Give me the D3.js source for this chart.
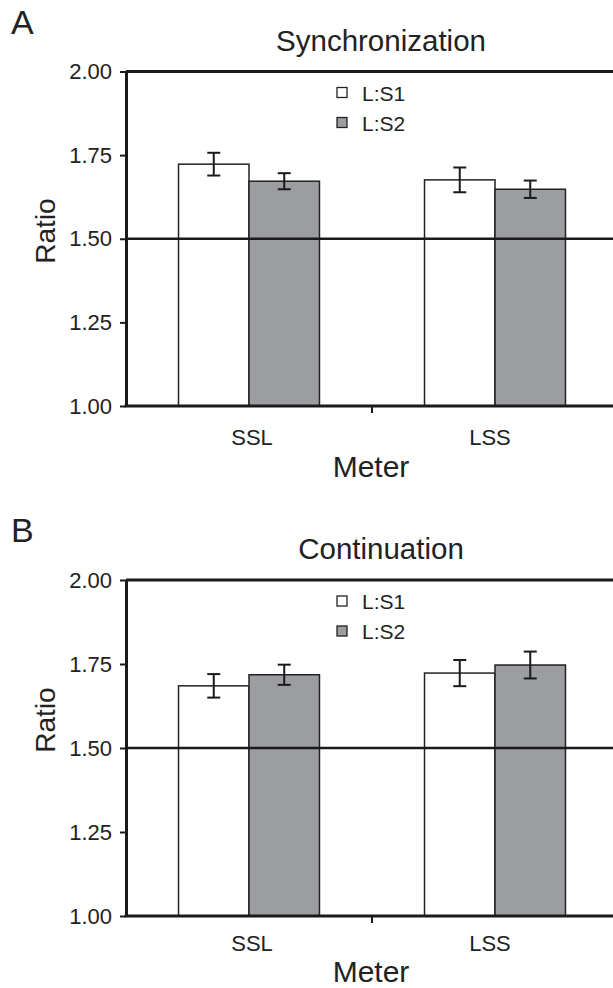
<!DOCTYPE html>
<html>
<head>
<meta charset="utf-8">
<script src="https://cdn.jsdelivr.net/npm/d3@7"></script>
<style>
body { margin: 0; background: #fff; }
svg { display: block; font-family: 'Liberation Sans', Arial, sans-serif; }
</style>
</head>
<body>
<div class="chart-container"></div>
<script>
//Data
const meters = ['SSL', 'LSS'];
const seriesNames = ['L:S1', 'L:S2'];
const yTicks = [1.00, 1.25, 1.50, 1.75, 2.00];

// A: Synchronization
const syncS1 = [1.723, 1.676];
const syncS2 = [1.672, 1.648];
const syncS1Err = [0.034, 0.037];
const syncS2Err = [0.024, 0.026];

// B: Continuation
const contS1 = [1.685, 1.723];
const contS2 = [1.718, 1.747];
const contS1Err = [0.035, 0.039];
const contS2Err = [0.030, 0.040];

const seriesFill = ['#ffffff', '#9c9da1'];

function buildRows(s1, s2, e1, e2){
    return meters.map((m, i) => ({
        meter: m,
        values: [
            {series: seriesNames[0], value: s1[i], err: e1[i]},
            {series: seriesNames[1], value: s2[i], err: e2[i]}
        ]
    }));
}

const svg_width = 613;
const svg_height = 988;

const svg = d3.select('.chart-container').append('svg')
    .attr('width', svg_width).attr('height', svg_height);

function drawPanel(opt){
    const {letter, title, rows, top, bottom} = opt;
    const left = 126, right = 618;

    const xScale = d3.scaleBand().domain(meters).range([left, right]).padding(0);
    const x1 = d3.scaleBand().domain(seriesNames).range([0, xScale.bandwidth()])
        .paddingInner(0).paddingOuter(0.745);
    const yScale = d3.scaleLinear().domain([1, 2]).range([bottom, top]);

    const g = svg.append('g');

    //panel letter and title
    g.append('text').attr('x', 11).attr('y', top - 38)
        .style('font-size', '34px').style('fill', '#222').text(letter);
    g.append('text').attr('x', 381).attr('y', top - 21)
        .attr('text-anchor', 'middle')
        .style('font-size', '29.5px').style('fill', '#222').text(title);

    //bars
    const groups = g.selectAll('.group').data(rows).enter().append('g')
        .attr('class', 'group')
        .attr('transform', d => `translate(${xScale(d.meter)},0)`);
    groups.selectAll('rect').data(d => d.values).enter().append('rect')
        .attr('x', d => x1(d.series))
        .attr('y', d => yScale(d.value))
        .attr('width', x1.bandwidth())
        .attr('height', d => yScale(1) - yScale(d.value))
        .style('fill', (d, i) => seriesFill[i])
        .style('stroke', '#222').style('stroke-width', 1.5);

    //reference line at 1.50
    g.append('line')
        .attr('x1', left).attr('x2', svg_width)
        .attr('y1', yScale(1.5)).attr('y2', yScale(1.5))
        .style('stroke', '#1a1a1a').style('stroke-width', 2.5);

    //error bars
    const eb = groups.selectAll('.err').data(d => d.values).enter().append('g').attr('class', 'err')
        .attr('transform', d => `translate(${x1(d.series) + x1.bandwidth() / 2},0)`)
        .style('stroke', '#1a1a1a').style('stroke-width', 2);
    eb.append('line').attr('y1', d => yScale(d.value + d.err)).attr('y2', d => yScale(d.value - d.err));
    eb.append('line').attr('x1', -6.5).attr('x2', 6.5)
        .attr('y1', d => yScale(d.value + d.err)).attr('y2', d => yScale(d.value + d.err));
    eb.append('line').attr('x1', -6.5).attr('x2', 6.5)
        .attr('y1', d => yScale(d.value - d.err)).attr('y2', d => yScale(d.value - d.err));

    //top frame line
    g.append('line').attr('x1', left).attr('x2', svg_width)
        .attr('y1', top).attr('y2', top)
        .style('stroke', '#1a1a1a').style('stroke-width', 3);

    //y axis
    const yAxis = d3.axisLeft(yScale).tickValues(yTicks)
        .tickFormat(d3.format('.2f')).tickSizeInner(6).tickSizeOuter(0).tickPadding(8);
    const yAxisDraw = g.append('g').attr('transform', `translate(${left},0)`).call(yAxis);
    yAxisDraw.select('.domain').style('stroke', '#1a1a1a').style('stroke-width', 3);
    yAxisDraw.selectAll('.tick line').style('stroke', '#1a1a1a').style('stroke-width', 2);
    yAxisDraw.selectAll('text').style('font-size', '22px').style('fill', '#222')
        .attr('font-family', null);

    //x axis
    g.append('line').attr('x1', left - 1.5).attr('x2', svg_width)
        .attr('y1', bottom).attr('y2', bottom)
        .style('stroke', '#1a1a1a').style('stroke-width', 3);
    g.append('line').attr('x1', xScale(meters[1])).attr('x2', xScale(meters[1]))
        .attr('y1', bottom).attr('y2', bottom + 7)
        .style('stroke', '#1a1a1a').style('stroke-width', 2);
    g.selectAll('.xlab').data(meters).enter().append('text')
        .attr('class', 'xlab')
        .attr('x', (d, i) => xScale(d) + xScale.bandwidth() / 2 + (i === 0 ? 3 : -5))
        .attr('y', bottom + opt.labelDy)
        .attr('text-anchor', 'middle')
        .style('font-size', '22px').style('fill', '#222').text(d => d);

    //axis titles
    g.append('text').attr('x', 371).attr('y', bottom + opt.meterDy)
        .attr('text-anchor', 'middle')
        .style('font-size', '30px').style('fill', '#222').text('Meter');
    g.append('text')
        .attr('transform', `translate(55,${opt.ratioY}) rotate(-90)`)
        .attr('text-anchor', 'middle')
        .style('font-size', '28px').style('fill', '#222').text('Ratio');

    //legend
    const legend = g.selectAll('.legend').data(seriesNames).enter().append('g')
        .attr('class', 'legend')
        .attr('transform', (d, i) => `translate(337,${top + 21 + i * 30})`);
    legend.append('rect').attr('x', 0).attr('y', -5).attr('width', 10).attr('height', 10)
        .style('fill', (d, i) => seriesFill[i])
        .style('stroke', '#222').style('stroke-width', 1.3);
    legend.append('text').attr('x', 25).attr('y', 8)
        .style('font-size', '21px').style('fill', '#222').text(d => d);
}

drawPanel({letter: 'A', title: 'Synchronization', top: 71.5, bottom: 406,
    labelDy: 39, meterDy: 71, ratioY: 231,
    rows: buildRows(syncS1, syncS2, syncS1Err, syncS2Err)});
drawPanel({letter: 'B', title: 'Continuation', top: 580, bottom: 916,
    labelDy: 35, meterDy: 66, ratioY: 720,
    rows: buildRows(contS1, contS2, contS1Err, contS2Err)});
</script>
</body>
</html>
